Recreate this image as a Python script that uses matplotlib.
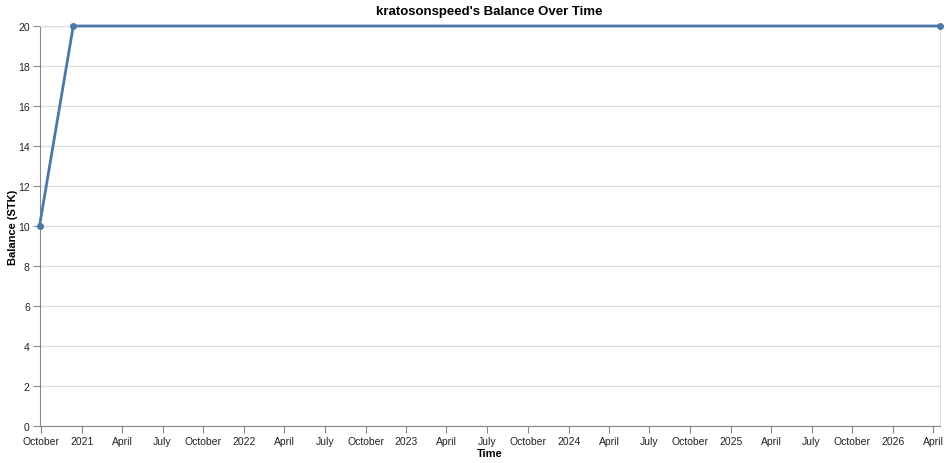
import pandas as pd
import matplotlib
matplotlib.use('Agg')
import matplotlib.pyplot as plt
import matplotlib.dates as mdates

dates = ['2020-09-27', '2020-12-12', '2026-04-15']
balance = [10, 20, 20]
y_ticks = [0, 2, 4, 6, 8, 10, 12, 14, 16, 18, 20]

plt.rcParams['font.family'] = ['Liberation Sans', 'DejaVu Sans']

dates = pd.to_datetime(dates)

fig = plt.figure(figsize=(9.49, 4.64), dpi=100)
ax = fig.add_axes([39.5 / 949, 37 / 464, 900 / 949, 400 / 464])

ax.plot(dates, balance, color='#4c78a8', linewidth=2, marker='o',
        markersize=4, zorder=3, clip_on=False)

ax.set_xlim(dates[0], dates[-1])
ax.set_ylim(0, 20)
ax.set_yticks(y_ticks)
ax.yaxis.grid(True, color='#dddddd', linewidth=1)
ax.set_axisbelow(True)


def quarter_label(x, pos=None):
    d = mdates.num2date(x)
    if d.month == 1:
        return str(d.year)
    return d.strftime('%B')


ax.xaxis.set_major_locator(mdates.MonthLocator(bymonth=[1, 4, 7, 10]))
ax.xaxis.set_major_formatter(plt.FuncFormatter(quarter_label))

for s in ['top', 'right']:
    ax.spines[s].set_color('#dddddd')
for s in ['left', 'bottom']:
    ax.spines[s].set_color('#888888')
ax.tick_params(axis='both', length=5, color='#888888', labelsize=7.5,
               labelcolor='#222222', pad=2)

ax.set_title("kratosonspeed's Balance Over Time", fontsize=9.5,
             fontweight='bold', pad=9)
ax.set_xlabel('Time', fontsize=8, fontweight='bold', labelpad=1.5)
ax.set_ylabel('Balance (STK)', fontsize=8, fontweight='bold')
ax.yaxis.set_label_coords(-21 / 900, 0.5)

plt.savefig('out.png', dpi=100)
